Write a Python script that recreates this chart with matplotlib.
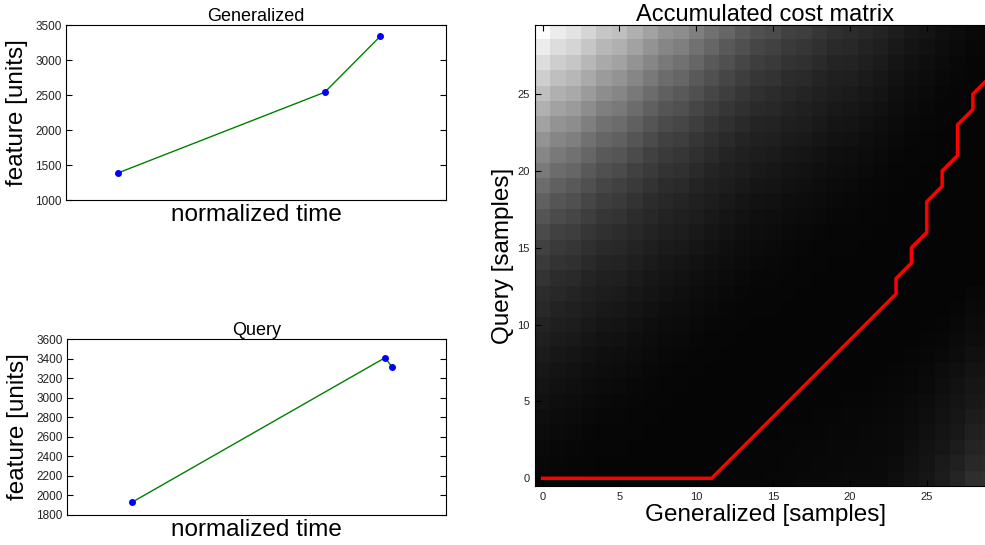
import numpy as np
import matplotlib
matplotlib.use('Agg')
import matplotlib.pyplot as plt


# data

# generalized signal (left, top)
gen_time = [0.138, 0.681, 0.827]
gen_feature = [1389, 2540, 3339]

# query signal (left, bottom)
query_time = [0.172, 0.840, 0.859]
query_feature = [1927, 3411, 3313]

# accumulated cost matrix, as grey level, rows listed from query sample 29 down to 0
cost_rows_top_down = [
    [252,236,228,213,198,191,176,162,148,141,127,114,102,90,80,75,66,62,54,48,45,40,35,29,23,20,15,12,9,7],
    [236,221,213,198,183,176,162,148,134,127,114,102,90,80,70,66,58,54,48,42,40,35,31,25,20,17,13,10,7,6],
    [221,206,198,183,169,162,148,134,121,114,102,90,80,70,62,58,51,48,42,37,35,31,27,21,17,14,11,8,6,6],
    [206,191,183,169,155,148,134,121,108,102,90,80,70,62,54,51,45,42,37,33,31,27,23,18,14,12,9,7,6,5],
    [191,176,169,155,141,134,121,108,96,90,80,70,62,54,48,45,40,37,33,29,27,23,20,15,12,10,7,6,5,5],
    [176,162,155,141,127,121,108,96,85,80,70,62,54,48,42,40,35,33,29,25,23,20,17,13,10,8,6,6,5,5],
    [162,148,141,127,114,108,96,85,75,70,62,54,48,42,37,35,31,29,25,21,20,17,14,11,8,7,6,5,5,5],
    [148,134,127,114,102,96,85,75,66,62,54,48,42,37,33,31,27,25,21,18,17,14,12,9,7,6,5,5,5,5],
    [134,121,114,102,90,85,75,66,58,54,48,42,37,33,29,27,23,21,18,15,14,12,10,7,6,6,5,5,5,5],
    [121,108,102,90,80,75,66,58,51,48,42,37,33,29,25,23,20,18,15,13,12,10,8,6,6,5,5,5,5,5],
    [108,96,90,80,70,66,58,51,45,42,37,33,29,25,21,20,17,15,13,11,10,8,7,6,5,5,5,5,5,5],
    [96,85,80,70,62,58,51,45,40,37,33,29,25,21,18,17,14,13,11,9,8,7,6,5,5,5,5,5,5,5],
    [85,75,70,62,54,51,45,40,35,33,29,25,21,18,15,14,12,11,9,7,7,6,6,5,5,5,5,5,5,5],
    [75,66,62,54,48,45,40,35,31,29,25,21,18,15,13,12,10,9,7,6,6,6,5,5,5,5,5,5,5,5],
    [66,58,54,48,42,40,35,31,27,25,21,18,15,13,11,10,8,7,6,6,6,5,5,5,5,5,5,5,5,5],
    [58,51,48,42,37,35,31,27,23,21,18,15,13,11,9,8,7,6,6,5,5,5,5,5,5,5,5,5,5,5],
    [51,45,42,37,33,31,27,23,20,18,15,13,11,9,7,7,6,6,5,5,5,5,5,5,5,5,5,5,5,5],
    [45,40,37,33,29,27,23,20,17,15,13,11,9,7,6,6,6,5,5,5,5,5,5,5,5,5,5,5,7,8],
    [40,35,33,29,25,23,20,17,14,13,11,9,7,6,6,6,5,5,5,5,5,5,5,5,5,5,5,6,9,10],
    [35,31,29,25,21,20,17,14,12,11,9,7,6,6,5,5,5,5,5,5,5,5,5,5,5,5,6,8,11,12],
    [31,27,25,21,18,17,14,12,10,9,7,6,6,5,5,5,5,5,5,5,5,5,5,5,5,6,7,10,13,14],
    [27,23,21,18,15,14,12,10,8,7,6,6,5,5,5,5,5,5,5,5,5,5,5,5,6,7,9,12,16,17],
    [23,20,18,15,13,12,10,8,7,6,6,5,5,5,5,5,5,5,5,5,5,5,5,6,7,9,12,15,19,20],
    [20,17,15,13,11,10,8,7,6,6,5,5,5,5,5,5,5,5,5,5,5,5,6,7,8,10,14,18,22,23],
    [17,14,13,11,9,8,7,6,6,5,5,5,5,5,5,5,5,5,5,5,6,6,7,8,10,12,16,20,24,26],
    [14,12,11,9,7,7,6,6,5,5,5,5,5,5,5,5,5,5,6,6,7,7,8,9,11,14,18,22,28,30],
    [12,10,9,7,6,6,6,5,5,5,5,5,5,5,5,5,6,6,6,7,7,8,9,10,12,16,20,24,32,34],
    [10,8,7,6,6,6,5,5,5,5,5,5,5,5,6,6,6,7,7,8,8,9,9,10,14,18,22,28,36,38],
    [8,7,6,6,5,5,5,5,5,5,5,5,5,6,6,6,7,7,8,8,9,9,10,12,16,20,26,32,40,42],
    [7,6,6,5,5,5,5,5,5,5,5,5,6,6,6,7,7,8,8,9,10,10,10,14,18,22,28,36,46,48],
]

# warping path (generalized index, query index)
path_gen = [0,1,2,3,4,5,6,7,8,9,10,11,12,13,14,15,16,17,18,19,20,21,22,23,
            23,24,24,25,25,25,26,26,27,27,27,28,28,29,29,29,29]
path_query = [0,0,0,0,0,0,0,0,0,0,0,0,1,2,3,4,5,6,7,8,9,10,11,12,
              13,14,15,16,17,18,19,20,21,22,23,24,25,26,27,28,29]


plt.rcParams['font.family'] = ['Liberation Sans', 'DejaVu Sans']
plt.rcParams['xtick.direction'] = 'in'
plt.rcParams['ytick.direction'] = 'in'

fig = plt.figure(figsize=(9.85, 5.45), dpi=100)
fig.patch.set_facecolor('white')


def signal_axes(rect, t, v, title, ylim, yticks):
    '''small line plot with dots, like the two on the left'''
    ax = fig.add_axes(rect)
    ax.plot(t, v, color='g', lw=1)
    ax.plot(t, v, 'o', color='b', markersize=4, markeredgecolor='b')
    ax.set_xlim(0, 1)
    ax.set_ylim(ylim)
    ax.set_yticks(yticks)
    ax.set_xticks([])
    ax.tick_params(axis='y', labelsize=8.5, labelcolor='#222222',
                   right=True, length=4, pad=3)
    ax.set_title(title, fontsize=13, pad=3)
    ax.set_xlabel('normalized time', fontsize=17.5, labelpad=3)
    ax.set_ylabel('feature [units]', fontsize=17.5, labelpad=5)
    return ax


signal_axes([0.0670, 0.6330, 0.3858, 0.3211], gen_time, gen_feature,
            'Generalized', (1000, 3500), np.arange(1000, 3501, 500))

signal_axes([0.0677, 0.0556, 0.3848, 0.3218], query_time, query_feature,
            'Query', (1800, 3600), np.arange(1800, 3601, 200))


# accumulated cost matrix, sticks out past the right edge like the original
cost = np.array(cost_rows_top_down[::-1])

ax = fig.add_axes([0.5431, 0.1083, 0.4680, 0.8459])
ax.imshow(cost, cmap='gray', origin='lower', interpolation='nearest',
          aspect='auto', vmin=0, vmax=255)
ax.plot(path_gen, path_query, color='r', lw=2.5)
ax.set_xlim(-0.5, 29.5)
ax.set_ylim(-0.5, 29.5)
ax.set_xticks(np.arange(0, 30, 5))
ax.set_yticks(np.arange(0, 30, 5))
ax.tick_params(labelsize=8, labelcolor='#222222', top=True, right=True,
               length=4, pad=4)
ax.set_title('Accumulated cost matrix', fontsize=17, pad=3)
ax.set_xlabel('Generalized [samples]', fontsize=17.5, labelpad=2)
ax.set_ylabel('Query [samples]', fontsize=17.5, labelpad=2)

fig.savefig('out.png', dpi=100, facecolor='white')
